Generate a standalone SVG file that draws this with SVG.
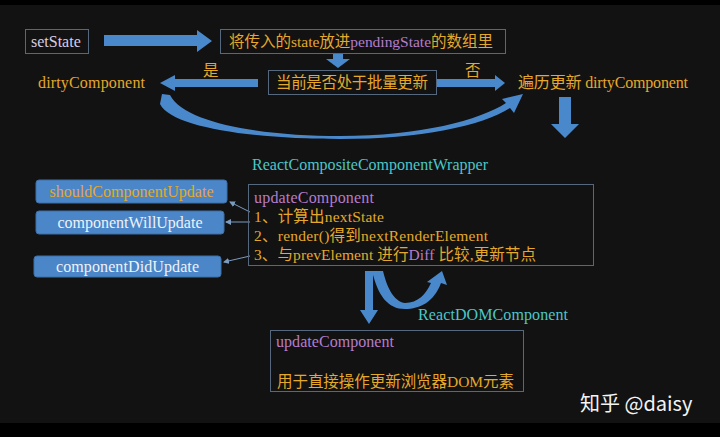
<svg xmlns="http://www.w3.org/2000/svg" width="720" height="437" viewBox="0 0 720 437">
<defs>
<style>
text{font-family:"Liberation Serif","Noto Sans CJK SC",serif;font-size:15.5px;}
.or{fill:#e6a82a;}
.pu{fill:#b67ccc;}
.cy{fill:#4cc6c8;}
.wh{fill:#eef2f8;}
.lav{fill:#d6cce6;}
.box{fill:none;stroke:#56687e;stroke-width:1;}
.bb{fill:#4a86c8;stroke:#3c6ea8;stroke-width:1;}
.ar{fill:#4a88cc;}
.thin{stroke:#7a9cc0;stroke-width:1;fill:none;}
.lg{font-size:16px;}
</style>
<marker id="ah" markerWidth="6" markerHeight="6" refX="5" refY="3" orient="auto" markerUnits="userSpaceOnUse">
<path d="M0,0 L6,3 L0,6 Z" fill="#7a9cc0"/>
</marker>
</defs>
<rect x="0" y="0" width="720" height="437" fill="#121212"/>
<rect x="0" y="0" width="720" height="5" fill="#000"/>
<rect x="0" y="423" width="720" height="14" fill="#000"/>

<g id="connectors">
<path class="ar" d="M104,35 L197,35 L197,30 L212,41 L197,52 L197,46 L104,46 Z"/>
<path class="ar" d="M333,54 L343,54 L343,59 L350,59 L338,68 L326,59 L333,59 Z"/>
<path class="ar" d="M258,79 L175,79 L175,75 L160,83 L175,91 L175,87 L258,87 Z"/>
<path class="ar" d="M436,79 L495,79 L495,75 L505,83 L495,91 L495,87 L436,87 Z"/>
<path class="ar" d="M162,94 L170,95 C185,124 265,136 340,136 C420,136 480,120 506,103 L502,99 L523,94 L514,113 L510,108 C482,126 420,139 340,139 C255,139 172,128 160,104 Z"/>
<path class="ar" d="M559,97 L571,97 L571,124 L579,124 L565,138 L551,124 L559,124 Z"/>
<path class="ar" d="M365,271 L373,271 L373,310 L378,310 L369,324 L360,310 L365,310 Z"/>
<path class="ar" d="M372,271 L383,271 C388,292 396,302 405,303 C418,303 426,294 431,283 L427,282 L442,271 L447,285 L441,283 C434,302 420,309 405,309 C388,309 378,296 372,271 Z"/>
<line class="thin" x1="250" y1="212" x2="230" y2="202" marker-end="url(#ah)"/>
<line class="thin" x1="250" y1="222" x2="226" y2="222" marker-end="url(#ah)"/>
<line class="thin" x1="250" y1="256" x2="224" y2="262" marker-end="url(#ah)"/>
</g>

<g id="setState">
<rect class="box" x="25.5" y="29.5" width="63" height="24"/>
<text class="lav lg" x="31" y="47">setState</text>
</g>

<g id="pushPending">
<rect class="box" x="220.5" y="29.5" width="285" height="24"/>
<text x="229" y="47" class="or" textLength="264">将传入的state放进<tspan class="pu">pendingState</tspan>的数组里</text>
</g>

<g id="isBatching">
<rect class="box" x="268.5" y="70.5" width="168" height="24"/>
<text class="or" x="276" y="88" textLength="152">当前是否处于批量更新</text>
</g>

<g id="labels">
<text class="or" x="203" y="76">是</text>
<text class="or" x="465" y="76">否</text>
</g>

<g id="dirtyComponent">
<text class="or lg" x="38" y="88" textLength="107">dirtyComponent</text>
</g>

<g id="traverse">
<text class="or lg" x="518" y="88" textLength="170">遍历更新 dirtyComponent</text>
</g>

<g id="compositeWrapper">
<text class="cy lg" x="252" y="170" textLength="236">ReactCompositeComponentWrapper</text>
<rect class="box" x="248.5" y="184.5" width="345" height="81"/>
<text class="pu lg" x="254" y="203" textLength="120">updateComponent</text>
<text class="or" x="254" y="222" textLength="130">1、计算出nextState</text>
<text class="or" x="254" y="241" textLength="234">2、render()得到nextRenderElement</text>
<text class="or" x="254" y="260" textLength="282">3、与prevElement 进行<tspan class="pu">Diff</tspan> 比较,更新节点</text>
</g>

<g id="shouldComponentUpdate">
<rect class="bb" x="36" y="180" width="191" height="23" rx="3"/>
<text class="or lg" x="131.5" y="197" text-anchor="middle" textLength="164">shouldComponentUpdate</text>
</g>
<g id="componentWillUpdate">
<rect class="bb" x="36" y="211" width="188" height="23" rx="3"/>
<text class="wh lg" x="130" y="228" text-anchor="middle" textLength="145">componentWillUpdate</text>
</g>
<g id="componentDidUpdate">
<rect class="bb" x="34" y="256" width="187" height="21" rx="3"/>
<text class="wh lg" x="127.5" y="272" text-anchor="middle" textLength="143">componentDidUpdate</text>
</g>

<g id="domComponent">
<text class="cy lg" x="418" y="320" textLength="150">ReactDOMComponent</text>
<rect class="box" x="270.5" y="330.5" width="253" height="61"/>
<text class="pu lg" x="276" y="347" textLength="118">updateComponent</text>
<text class="or" x="277" y="387" textLength="237">用于直接操作更新浏览器DOM元素</text>
</g>

<g id="watermark">
<text x="580" y="411" style="font-family:'Noto Sans CJK SC','Noto Sans',sans-serif;font-size:20px" fill="#f4f4f4">知乎 @daisy</text>
</g>
</svg>
